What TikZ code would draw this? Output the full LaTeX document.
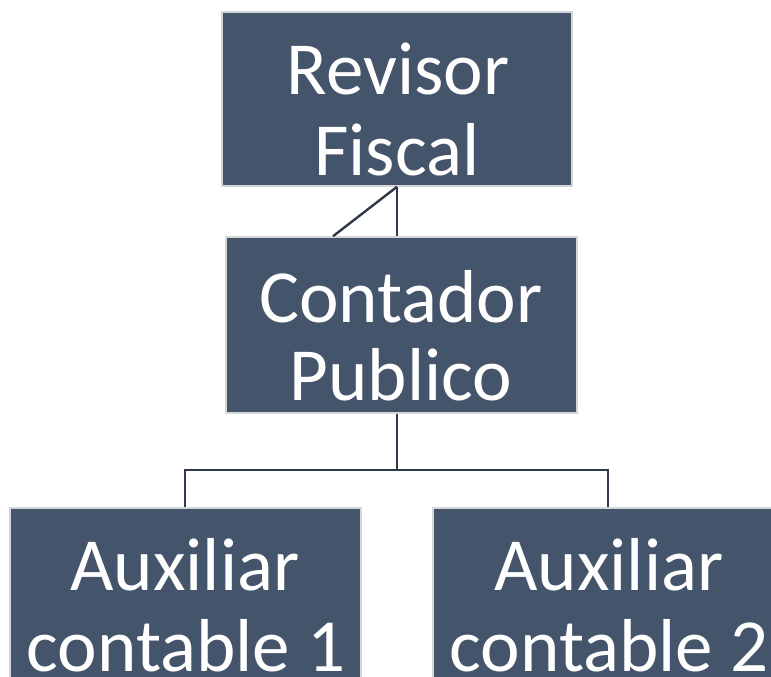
\documentclass[tikz,border=0pt]{standalone}
\usepackage{fontspec}
\setmainfont{Carlito}
\definecolor{boxfill}{HTML}{44546A}
\definecolor{boxedge}{HTML}{D4D6DA}
\definecolor{linecol}{HTML}{2E3A4B}
\tikzset{
  orgbox/.style={rectangle, fill=boxfill, draw=boxedge, line width=1.5pt,
    minimum width=350pt, minimum height=174pt, inner sep=0pt},
  lbl/.style={anchor=base, text=white, inner sep=0pt,
    font=\fontsize{75}{80}\selectfont},
  conn/.style={draw=linecol, line width=2.4pt}
}
\begin{document}
\begin{tikzpicture}[x=1pt,y=-1pt]
\useasboundingbox (0,0) rectangle (771,677);
\clip (0,0) rectangle (771,677);
% boxes
\node[orgbox] (rev) at (397,99) {};
\node[orgbox, minimum width=351pt, minimum height=176pt] (con) at (401.5,325) {};
\node[orgbox, minimum width=351pt, minimum height=176pt] (aux1) at (185.5,596) {};
\node[orgbox, minimum width=351pt, minimum height=176pt] (aux2) at (608.5,596) {};
% texts
\node[lbl] (revA) at (398,95) {Revisor};
\node[lbl] (revB) at (397,175) {Fiscal};
\node[lbl] (conA) at (401,322) {Contador};
\node[lbl] (conB) at (401,400) {Publico};
\node[lbl] (auxA1) at (185,590) {Auxiliar};
\node[lbl] (auxB1) at (186,671) {contable 1};
\node[lbl] (auxA2) at (609,590) {Auxiliar};
\node[lbl] (auxB2) at (609,671) {contable 2};
% connectors
\coordinate (revfoot) at (rev.south -| 397,0);
\coordinate (conjoin) at (con.north -| 397,0);
\coordinate (condiag) at (con.north -| 333,0);
\draw[conn] (revfoot) -- (conjoin);
\draw[conn] (revfoot) -- (condiag);
\coordinate (confoot) at (con.south -| 397,0);
\coordinate (bus) at (397,470);
\draw[conn] (confoot) -- (bus) -| (aux1.north -| 185,0);
\draw[conn] (bus) -| (aux2.north -| 608,0);
\end{tikzpicture}
\end{document}
